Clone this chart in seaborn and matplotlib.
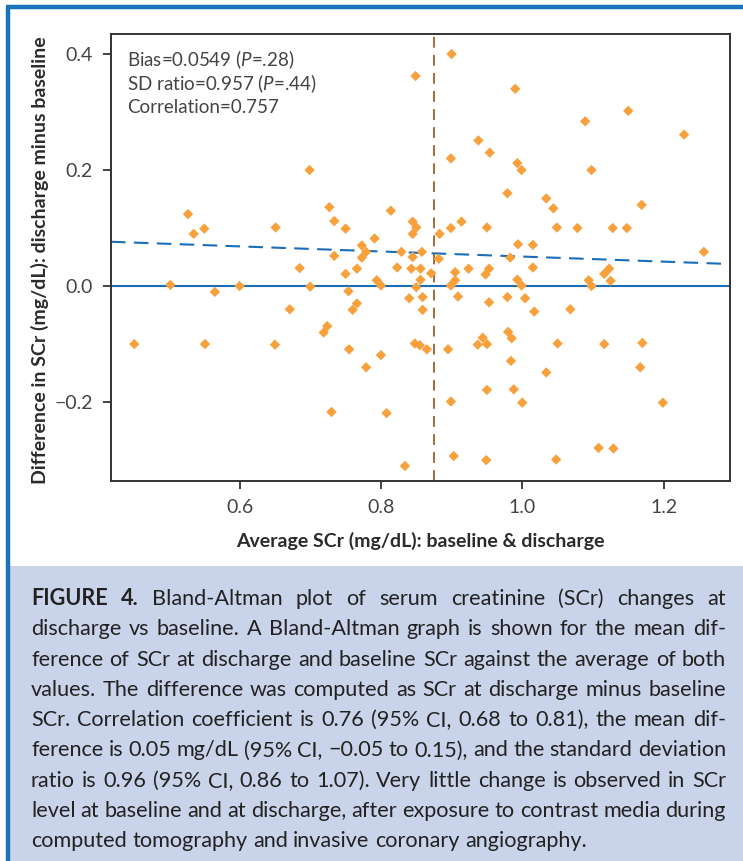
import matplotlib
matplotlib.use("Agg")
import matplotlib.pyplot as plt
import numpy as np
import pandas as pd
import seaborn as sns
from matplotlib.lines import Line2D
from matplotlib.patches import Rectangle

W, H = 743, 861

# average of baseline and discharge SCr (mg/dL)
AVG_SCR = [
    0.527, 0.535, 0.550, 0.651, 0.685, 0.502, 0.565, 0.600, 0.671, 0.451, 0.551, 0.650,
    0.699, 0.899, 0.727, 0.734, 0.750, 0.814, 0.845, 0.850, 0.845, 0.899, 0.914, 0.883,
    0.791, 0.773, 0.779, 0.773, 0.734, 0.829, 0.845, 0.858, 0.882, 0.766, 0.823, 0.843,
    0.856, 0.871, 0.905, 0.750, 0.856, 0.905, 0.794, 0.800, 0.700, 0.850, 0.899, 0.754,
    0.840, 0.859, 0.909, 0.766, 0.760, 0.859, 0.724, 0.719, 0.848, 0.855, 0.865, 0.895,
    0.755, 0.800, 0.779, 0.899, 0.730, 0.808, 0.903, 0.834, 0.849, 0.900,
    0.990, 1.089, 0.938, 0.954, 0.993, 0.999, 1.098, 0.979, 1.034, 1.044, 0.950, 1.049,
    1.078, 0.994, 1.015, 0.983, 0.924, 0.953, 0.948, 1.015, 0.993, 0.999, 1.094, 1.098,
    1.116, 0.953, 0.979, 1.004, 1.017, 1.068, 0.980, 0.944, 0.985, 0.937, 0.950, 1.050,
    1.116, 0.984, 1.034, 0.950, 0.988, 1.000, 1.108, 0.949, 1.048,
    1.150, 1.229, 1.169, 1.128, 1.148, 1.257, 1.123, 1.125, 1.170, 1.167, 1.199, 1.129,
]
# discharge minus baseline SCr (mg/dL)
DIFF_SCR = [
    0.124, 0.090, 0.099, 0.101, 0.031, 0.002, -0.010, 0.000, -0.040, -0.100, -0.100, -0.101,
    0.200, 0.220, 0.136, 0.112, 0.099, 0.130, 0.111, 0.101, 0.090, 0.100, 0.111, 0.090,
    0.082, 0.070, 0.059, 0.049, 0.052, 0.059, 0.050, 0.059, 0.047, 0.030, 0.032, 0.030,
    0.030, 0.022, 0.024, 0.021, 0.011, 0.010, 0.010, 0.001, -0.001, -0.002, 0.001, -0.009,
    -0.021, -0.019, -0.018, -0.030, -0.041, -0.041, -0.069, -0.080, -0.099, -0.102, -0.109, -0.109,
    -0.109, -0.119, -0.140, -0.199, -0.217, -0.219, -0.293, -0.310, 0.362, 0.400,
    0.340, 0.284, 0.251, 0.230, 0.212, 0.200, 0.200, 0.160, 0.151, 0.134, 0.101, 0.101,
    0.100, 0.072, 0.071, 0.049, 0.030, 0.030, 0.020, 0.032, 0.011, 0.001, 0.010, 0.000,
    0.021, -0.028, -0.019, -0.021, -0.044, -0.040, -0.079, -0.089, -0.090, -0.101, -0.100, -0.099,
    -0.100, -0.129, -0.149, -0.179, -0.178, -0.201, -0.279, -0.300, -0.299,
    0.302, 0.261, 0.140, 0.100, 0.100, 0.059, 0.030, 0.009, -0.098, -0.140, -0.201, -0.280,
]

MEAN_AVG = 0.875          # vertical dashed reference
TREND_INTERCEPT = 0.0947  # dashed regression line of difference on average
TREND_SLOPE = -0.0438

X_TICKS = [0.6, 0.8, 1.0, 1.2]
Y_TICKS = [-0.2, 0.0, 0.2, 0.4]
Y_TICK_LABELS = ["\u22120.2", "0.0", "0.2", "0.4"]

STATS_LINES = [
    r"Bias=0.0549 ($P$=.28)",
    r"SD ratio=0.957 ($P$=.44)",
    "Correlation=0.757",
]

CAPTION_LINES = [
    "FIGURE 4. Bland-Altman plot of serum creatinine (SCr) changes at",
    "discharge vs baseline. A Bland-Altman graph is shown for the mean dif-",
    "ference of SCr at discharge and baseline SCr against the average of both",
    "values. The difference was computed as SCr at discharge minus baseline",
    "SCr. Correlation coefficient is 0.76 (95% CI, 0.68 to 0.81), the mean dif-",
    "ference is 0.05 mg/dL (95% CI, \u22120.05 to 0.15), and the standard deviation",
    "ratio is 0.96 (95% CI, 0.86 to 1.07). Very little change is observed in SCr",
    "level at baseline and at discharge, after exposure to contrast media during",
    "computed tomography and invasive coronary angiography.",
]

ORANGE = "#F7A03C"
BLUE = "#1A6EB7"
BROWN = "#A35F2A"
FRAME = "#1B74BB"
CAPTION_BG = "#C9D3EA"
TEXT = "#2B2B2B"

sns.set_theme(style="ticks")
plt.rcParams["font.family"] = ["Lato", "DejaVu Sans"]
plt.rcParams["mathtext.fontset"] = "custom"
plt.rcParams["mathtext.rm"] = "Lato"
plt.rcParams["mathtext.it"] = "Lato:italic"


def fx(px):
    return px / W


def fy(py):
    return 1 - py / H


fig = plt.figure(figsize=(W / 100, H / 100), dpi=100)
fig.patch.set_facecolor("white")

# caption panel and blue frame
fig.patches.append(Rectangle((fx(9), 0), 1, fy(566), transform=fig.transFigure,
                             facecolor=CAPTION_BG, edgecolor="none", zorder=0))
fig.lines.append(Line2D([fx(8), fx(8)], [0, fy(7)], transform=fig.transFigure,
                        color=FRAME, lw=3.2, solid_capstyle="butt"))
fig.lines.append(Line2D([fx(6.5), 1], [fy(7), fy(7)], transform=fig.transFigure,
                        color=FRAME, lw=3.2, solid_capstyle="butt"))

ax = fig.add_axes([fx(111), fy(481), fx(730) - fx(111), fy(34) - fy(481)])
df = pd.DataFrame({"avg": AVG_SCR, "diff": DIFF_SCR})
sns.scatterplot(data=df, x="avg", y="diff", marker="D", s=28, color=ORANGE,
                edgecolor="none", linewidth=0, ax=ax, zorder=3)

ax.set_xlim(0.418, 1.294)
ax.set_ylim(-0.336, 0.4345)

ax.axhline(0, color=BLUE, lw=1.5, zorder=2)
xs = np.array(ax.get_xlim())
ax.plot(xs, TREND_INTERCEPT + TREND_SLOPE * xs, color=BLUE, lw=1.5,
        dashes=(7, 4), zorder=2)
ax.axvline(MEAN_AVG, color=BROWN, lw=1.3, dashes=(6, 4), zorder=2)

ax.set_xticks(X_TICKS)
ax.set_xticklabels([f"{t:.1f}" for t in X_TICKS])
ax.set_yticks(Y_TICKS)
ax.set_yticklabels(Y_TICK_LABELS)
ax.tick_params(axis="both", direction="out", length=6, width=1.3, color="#333333",
               labelsize=14, labelcolor="#444444", pad=7)
for side in ["top", "right", "left", "bottom"]:
    ax.spines[side].set_visible(True)
    ax.spines[side].set_color("#333333")
    ax.spines[side].set_linewidth(1.4)

ax.set_xlabel("")
ax.set_ylabel("")
fig.text(fx(420.5), fy(541), "Average SCr (mg/dL): baseline & discharge",
         ha="center", va="center", fontsize=14, fontweight="bold", color=TEXT)
fig.text(fx(40), fy(260), "Difference in SCr (mg/dL): discharge minus baseline",
         ha="center", va="center", rotation=90, fontsize=14, fontweight="bold",
         color=TEXT)

for i, line in enumerate(STATS_LINES):
    fig.text(fx(127), fy(60 + 23.7 * i), line, ha="left", va="center",
             fontsize=13.5, color="#444444")

# justified caption
renderer = fig.canvas.get_renderer()
left_px, right_px = 31, 726
for i, line in enumerate(CAPTION_LINES):
    base_y = fy(605 + 30.3 * i)
    words = line.split(" ")
    texts = []
    for j, w in enumerate(words):
        bold = i == 0 and j < 2
        t = fig.text(0, base_y, w, ha="left", va="baseline", fontsize=15.6,
                     fontweight="bold" if bold else "normal", color="#222222")
        texts.append(t)
    widths = [t.get_window_extent(renderer).width for t in texts]
    last = i == len(CAPTION_LINES) - 1
    if last or len(words) == 1:
        gap = 5.5
    else:
        gap = max((right_px - left_px - sum(widths)) / (len(words) - 1), 3.0)
    x = left_px
    for t, w in zip(texts, widths):
        t.set_x(fx(x))
        x += w + gap

fig.savefig("out.png", dpi=100)
